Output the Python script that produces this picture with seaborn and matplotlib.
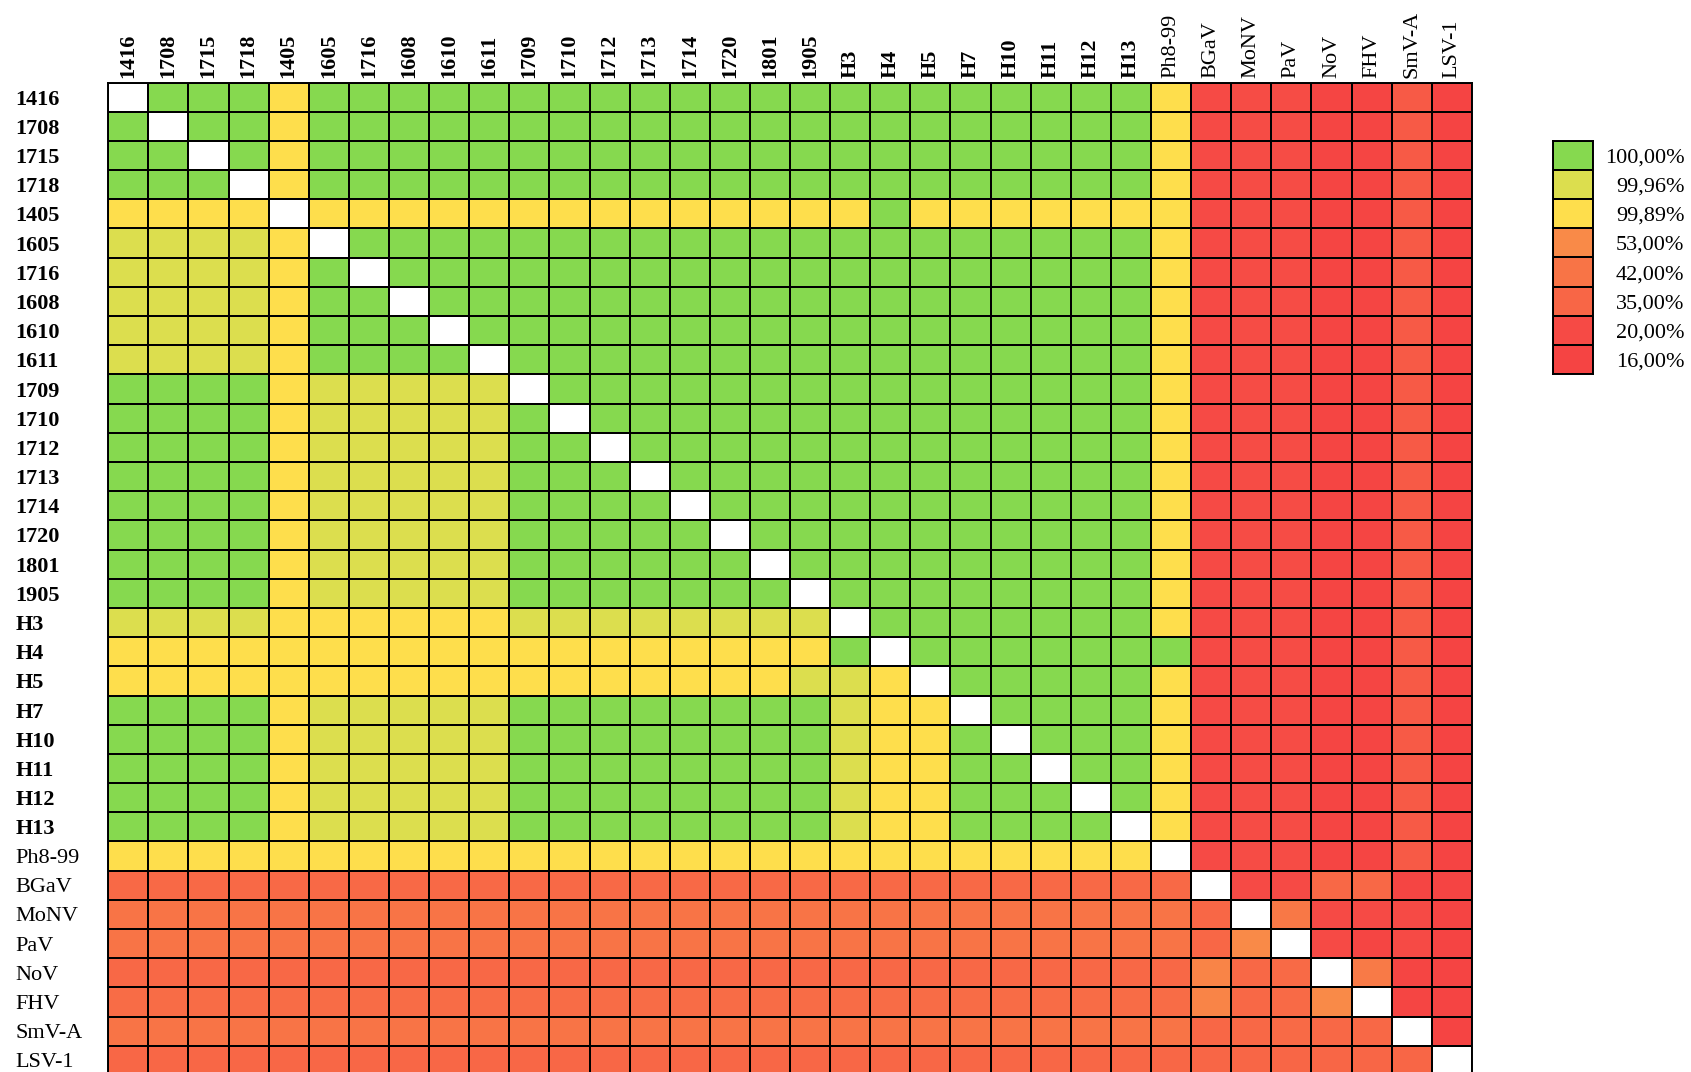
import numpy as np
import pandas as pd
import seaborn as sns
import matplotlib.pyplot as plt
from matplotlib.colors import LinearSegmentedColormap

labels = ['1416', '1708', '1715', '1718', '1405', '1605', '1716', '1608', '1610', '1611',
          '1709', '1710', '1712', '1713', '1714', '1720', '1801', '1905',
          'H3', 'H4', 'H5', 'H7', 'H10', 'H11', 'H12', 'H13',
          'Ph8-99', 'BGaV', 'MoNV', 'PaV', 'NoV', 'FHV', 'SmV-A', 'LSV-1']
n_bold = 26  # isolate names are printed in bold

# identity between isolates (1416 .. Ph8-99)
# G = 100,00 %   g = 99,96 %   Y = 99,89 %   . = same sequence (blank)
isolate_rows = [
    '.GGG Y GGGGG GGGGGGGG G G G GGGGG Y',
    'G.GG Y GGGGG GGGGGGGG G G G GGGGG Y',
    'GG.G Y GGGGG GGGGGGGG G G G GGGGG Y',
    'GGG. Y GGGGG GGGGGGGG G G G GGGGG Y',
    'YYYY . YYYYY YYYYYYYY Y G Y YYYYY Y',
    'gggg Y .GGGG GGGGGGGG G G G GGGGG Y',
    'gggg Y G.GGG GGGGGGGG G G G GGGGG Y',
    'gggg Y GG.GG GGGGGGGG G G G GGGGG Y',
    'gggg Y GGG.G GGGGGGGG G G G GGGGG Y',
    'gggg Y GGGG. GGGGGGGG G G G GGGGG Y',
    'GGGG Y ggggg .GGGGGGG G G G GGGGG Y',
    'GGGG Y ggggg G.GGGGGG G G G GGGGG Y',
    'GGGG Y ggggg GG.GGGGG G G G GGGGG Y',
    'GGGG Y ggggg GGG.GGGG G G G GGGGG Y',
    'GGGG Y ggggg GGGG.GGG G G G GGGGG Y',
    'GGGG Y ggggg GGGGG.GG G G G GGGGG Y',
    'GGGG Y ggggg GGGGGG.G G G G GGGGG Y',
    'GGGG Y ggggg GGGGGGG. G G G GGGGG Y',
    'gggg Y YYYYY gggggggg . G G GGGGG Y',
    'YYYY Y YYYYY YYYYYYYY G . G GGGGG G',
    'YYYY Y YYYYY YYYYYYYg g Y . GGGGG Y',
    'GGGG Y ggggg GGGGGGGG g Y Y .GGGG Y',
    'GGGG Y ggggg GGGGGGGG g Y Y G.GGG Y',
    'GGGG Y ggggg GGGGGGGG g Y Y GG.GG Y',
    'GGGG Y ggggg GGGGGGGG g Y Y GGG.G Y',
    'GGGG Y ggggg GGGGGGGG g Y Y GGGG. Y',
    'YYYY Y YYYYY YYYYYYYY Y Y Y YYYYY .',
]
isolate_codes = {'G': 100.0, 'g': 99.96, 'Y': 99.89, '.': np.nan}

# isolates vs. other viruses (columns BGaV .. LSV-1), same for every isolate row
isolate_vs_virus = [20, 21, 21, 16.7, 16.7, 28.5, 16.3]
# other viruses (rows BGaV .. LSV-1) vs. every isolate column
virus_vs_isolate = [36.5, 42, 42, 36, 38, 42, 35.5]
# other viruses among themselves
virus_block = [
    [np.nan, 20, 20, 36, 36, 16.5, 16],
    [35.5, np.nan, 44, 20, 20, 20, 16],
    [35.5, 53, np.nan, 20, 17, 20, 16],
    [50, 36, 37, np.nan, 45, 16.5, 16],
    [50, 36, 37, 53, np.nan, 16.5, 16],
    [35.5, 36, 37, 36, 36, np.nan, 16],
    [35, 35, 35, 35, 35, 35, np.nan],
]

legend_values = [100, 99.96, 99.89, 53, 42, 35, 20, 16]
legend_labels = ['100,00%', '99,96%', '99,89%', '53,00%', '42,00%', '35,00%', '20,00%', '16,00%']
legend_colors = ['#86D94F', '#E1DE4E', '#FEDE4C', '#F98A48', '#F87446', '#F86646', '#F64A45', '#F54443']

# build the full matrix
rows = []
for r in isolate_rows:
    vals = [isolate_codes[c] for c in r.replace(' ', '')]
    rows.append(vals + list(isolate_vs_virus))
for v, block in zip(virus_vs_isolate, virus_block):
    rows.append([v] * len(isolate_rows) + list(block))
df = pd.DataFrame(rows, index=labels, columns=labels)

vmin, vmax = 16, 100
stops = sorted(zip(legend_values, legend_colors))
cmap = LinearSegmentedColormap.from_list(
    'identity', [((v - vmin) / (vmax - vmin), c) for v, c in stops], N=20000)

plt.rcParams['font.family'] = ['Liberation Serif', 'DejaVu Serif']

fig = plt.figure(figsize=(16.91, 10.72), dpi=100)
ax = fig.add_axes([0.0640, -0.0028, 0.8064, 0.9258])

sns.heatmap(df, mask=df.isna(), cmap=cmap, vmin=vmin, vmax=vmax,
            linewidths=1.2, linecolor='black', cbar=False, ax=ax)

ax.xaxis.tick_top()
ax.set_xticks(np.arange(len(labels)) + 0.5)
ax.set_xticklabels(labels, rotation=90, fontsize=16, va='bottom', ha='center')
ax.set_yticks(np.arange(len(labels)) + 0.5)
ax.set_yticklabels(labels, rotation=0, fontsize=16, ha='left', va='center_baseline')
ax.tick_params(axis='x', length=0, pad=3.5)
ax.tick_params(axis='y', length=0, pad=67)
for i, t in enumerate(ax.get_xticklabels()):
    t.set_fontweight('bold' if i < n_bold else 'normal')
for i, t in enumerate(ax.get_yticklabels()):
    t.set_fontweight('bold' if i < n_bold else 'normal')
ax.set_xlabel('')
ax.set_ylabel('')
for s in ax.spines.values():
    s.set_visible(True)
    s.set_color('black')
    s.set_linewidth(1.4)

# legend drawn as a small one-column heatmap
lax = fig.add_axes([0.9182, 0.6511, 0.02365, 0.2174])
leg = pd.DataFrame({'v': legend_values}, index=legend_labels)
sns.heatmap(leg, cmap=cmap, vmin=vmin, vmax=vmax, linewidths=1.2, linecolor='black',
            cbar=False, xticklabels=False, ax=lax)
lax.yaxis.tick_right()
lax.set_yticklabels(legend_labels, rotation=0, fontsize=16, ha='right', va='center_baseline')
lax.tick_params(axis='y', length=0, pad=66)
lax.set_ylabel('')
for s in lax.spines.values():
    s.set_visible(True)
    s.set_color('black')
    s.set_linewidth(1.4)

fig.savefig('out.png', dpi=100)
